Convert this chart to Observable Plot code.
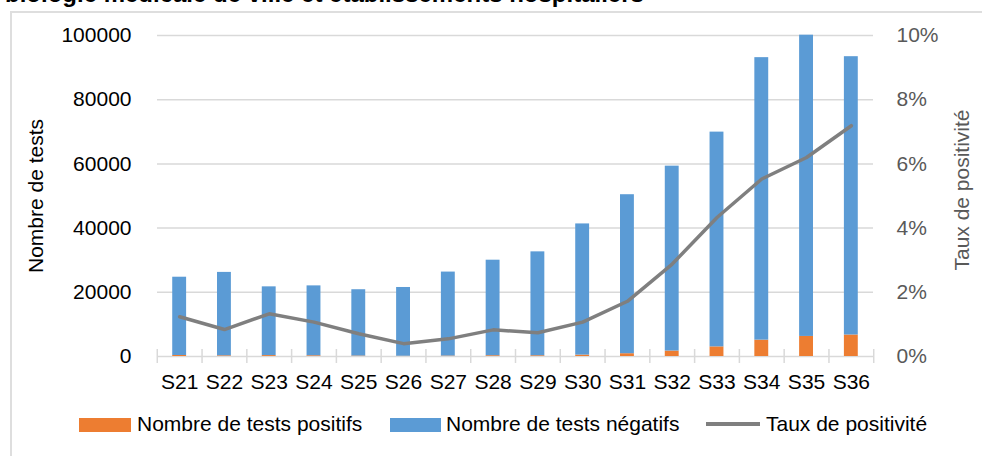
<!DOCTYPE html>
<html>
<head>
<meta charset="utf-8">
<script src="https://cdn.jsdelivr.net/npm/d3@7"></script>
<script src="https://cdn.jsdelivr.net/npm/@observablehq/plot@0.6"></script>
<style>
  html, body { margin: 0; padding: 0; background: #fff; overflow: hidden; }
  #wrap { position: relative; width: 982px; height: 456px; font-family: "Liberation Sans", Arial, sans-serif; }
  #title { position: absolute; left: 5px; top: -18px; font-size: 24px; line-height: 24px; font-weight: bold; color: #000; white-space: nowrap; }
  #frame { position: absolute; left: 10px; top: 11px; width: 980px; height: 460px; border-left: 2px solid #dedede; border-top: 2px solid #dedede; box-sizing: border-box; }
  #chart { position: absolute; left: 0; top: 0; }
  .lg { position: absolute; font-size: 21px; line-height: 24px; color: #000; white-space: nowrap; }
  .sw { position: absolute; height: 14px; }
</style>
</head>
<body>
<div id="wrap">
  <div id="frame"></div>
  <div id="title">biologie médicale de ville et établissements hospitaliers</div>
  <div id="chart"></div>
  <div id="legend"></div>
</div>
<script>
const weeks = ["S21","S22","S23","S24","S25","S26","S27","S28","S29","S30","S31","S32","S33","S34","S35","S36"];
const positifs = [310, 220, 290, 235, 150, 85, 145, 250, 240, 440, 870, 1700, 3000, 5100, 6250, 6700];
const negatifs = [24390, 25980, 21410, 21765, 20650, 21415, 26155, 29750, 32360, 40860, 49530, 57600, 66900, 88000, 93850, 86700];
const tauxPct = [1.24, 0.84, 1.33, 1.07, 0.71, 0.40, 0.55, 0.83, 0.74, 1.07, 1.72, 2.88, 4.33, 5.53, 6.20, 7.19];
const leftTicks = [0, 20000, 40000, 60000, 80000, 100000];
const rightTicksPct = [0, 2, 4, 6, 8, 10];
const seriesNames = ["Nombre de tests positifs", "Nombre de tests négatifs", "Taux de positivité"];
const axisTitles = ["Nombre de tests", "Taux de positivité"];
const colors = ["#ed7d31", "#5b9bd5", "#7f7f7f"];

const yMax = 100000, rMax = 10; // left axis max, right axis max (%)
const toLeft = p => p / rMax * yMax;

const stacked = weeks.flatMap((w, i) => [
  {week: w, type: seriesNames[0], n: positifs[i]},
  {week: w, type: seriesNames[1], n: negatifs[i]}
]);
const rate = weeks.map((w, i) => ({week: w, pct: tauxPct[i]}));

const W = 982, H = 456;
const mL = 157, mR = 109, mT = 35, mB = 100;
const pIn = 0.69, pOut = 0.34;
const step = (W - mL - mR) / (weeks.length - pIn + 2 * pOut);

const tickStyle = {y1: 0, y2: 0, insetTop: -7, insetBottom: -7, stroke: "#d9d9d9", strokeWidth: 1.5};

const chart = Plot.plot({
  width: W, height: H,
  marginLeft: mL, marginRight: mR, marginTop: mT, marginBottom: mB,
  style: {fontFamily: "'Liberation Sans', Arial, sans-serif", fontSize: "21px", color: "#000", background: "transparent"},
  x: {domain: weeks, paddingInner: pIn, paddingOuter: pOut, round: false, axis: null},
  y: {domain: [0, yMax], axis: null},
  color: {domain: seriesNames.slice(0, 2), range: colors.slice(0, 2)},
  marks: [
    Plot.gridY(leftTicks.slice(1), {stroke: "#d9d9d9", strokeOpacity: 1, strokeWidth: 1.5}),
    Plot.ruleY([0], {stroke: "#d9d9d9", strokeWidth: 1.5}),
    Plot.ruleX(weeks, {x: d => d, dx: -step / 2, ...tickStyle}),
    Plot.ruleX(weeks.slice(-1), {x: d => d, dx: step / 2, ...tickStyle}),
    Plot.barY(stacked, {x: "week", y: "n", fill: "type", order: null}),
    Plot.line(rate, {x: "week", y: d => toLeft(d.pct), stroke: colors[2], strokeWidth: 3.5, strokeLinejoin: "round", strokeLinecap: "round"}),
    Plot.axisY(leftTicks, {anchor: "left", tickSize: 0, tickPadding: 26, label: null, fill: "#000", tickFormat: d => String(d)}),
    Plot.axisY(rightTicksPct.map(toLeft), {anchor: "right", tickSize: 0, tickPadding: 23, label: null, fill: "#595959", tickFormat: d => (d / yMax * rMax) + "%"}),
    Plot.axisX({anchor: "bottom", tickSize: 0, tickPadding: 18, label: null, fill: "#000"}),
    Plot.text([axisTitles[0]], {frameAnchor: "left", dx: -121, rotate: -90, textAnchor: "middle", text: d => d, fill: "#000", fontSize: 21}),
    Plot.text([axisTitles[1]], {frameAnchor: "right", dx: 89, dy: -6, rotate: -90, textAnchor: "middle", text: d => d, fill: "#595959", fontSize: 21})
  ]
});
document.getElementById("chart").appendChild(chart);

// Legend
const lg = document.getElementById("legend");
const items = [
  {kind: "rect", color: colors[0], sx: 79, sw: 52, tx: 137, label: seriesNames[0]},
  {kind: "rect", color: colors[1], sx: 390, sw: 51, tx: 446, label: seriesNames[1]},
  {kind: "line", color: colors[2], sx: 706, sw: 54, tx: 766, label: seriesNames[2]}
];
for (const it of items) {
  const s = document.createElement("div");
  s.className = "sw";
  s.style.left = it.sx + "px";
  s.style.width = it.sw + "px";
  s.style.background = it.color;
  if (it.kind === "rect") {
    s.style.top = "418px";
  } else {
    s.style.top = "422px";
    s.style.height = "4px";
  }
  lg.appendChild(s);
  const t = document.createElement("div");
  t.className = "lg";
  t.style.left = it.tx + "px";
  t.style.top = "412px";
  t.textContent = it.label;
  lg.appendChild(t);
}
</script>
</body>
</html>
